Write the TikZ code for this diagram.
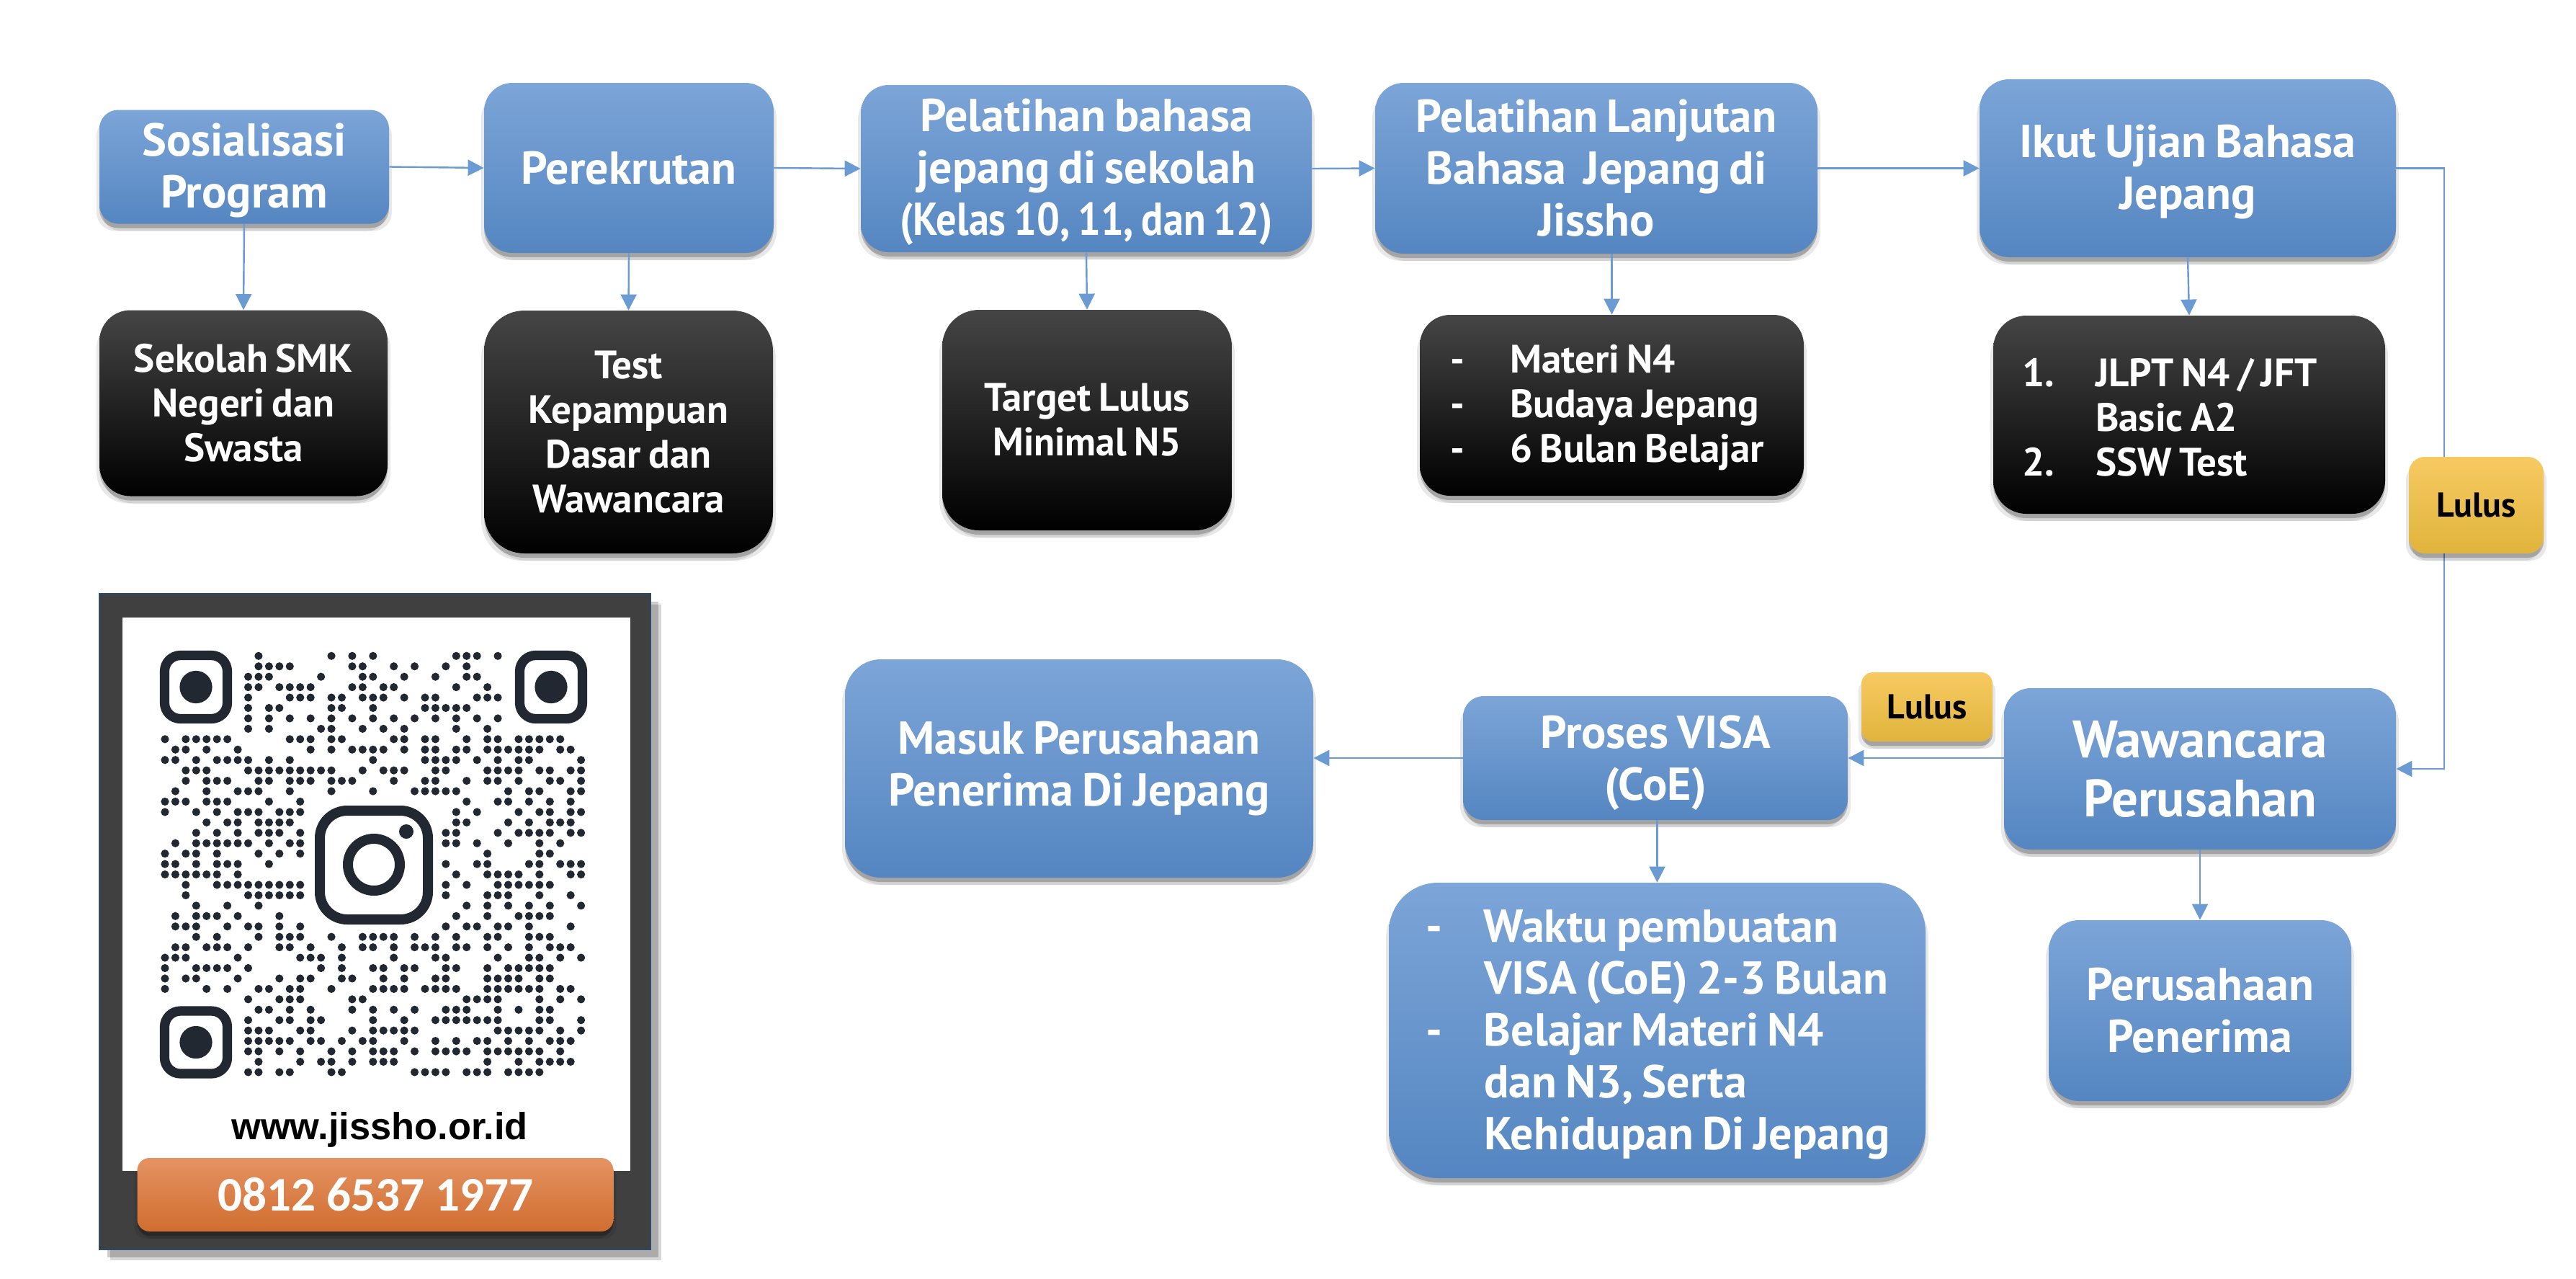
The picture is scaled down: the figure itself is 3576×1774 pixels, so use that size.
\documentclass[tikz,border=0pt]{standalone}
\usepackage{fontspec}
\usepackage{graphicx}
\setmainfont[WordSpace=0.75]{PT Sans}
\newfontfamily\phonefont{Carlito}
\newfontfamily\webfont{Liberation Sans}
\usetikzlibrary{shadows,arrows.meta}
\newcommand{\lift}[1]{\rule{0pt}{#1em}}
\newcommand{\narrowed}[2]{\scalebox{#1}[1]{#2}}
\newcommand{\itemline}[3]{\mbox{\makebox[#1][l]{#2}#3}}
\definecolor{blueT}{HTML}{7CA5D8}
\definecolor{blueM}{HTML}{6698D5}
\definecolor{blueB}{HTML}{5586C1}
\definecolor{blackT}{HTML}{454545}
\definecolor{yelT}{HTML}{F7CA62}
\definecolor{yelM}{HTML}{F6C544}
\definecolor{yelB}{HTML}{E0B43C}
\definecolor{orT}{HTML}{E59262}
\definecolor{orM}{HTML}{E27E3E}
\definecolor{orB}{HTML}{D06E30}
\definecolor{linkc}{HTML}{6A9BD3}
\definecolor{qrc}{HTML}{212832}
\definecolor{framec}{HTML}{404040}
\definecolor{frameb}{HTML}{2F4A68}
\tikzset{
  softshadow/.style={
    general shadow={shadow xshift=2pt,shadow yshift=-5pt,fill=black,opacity=.09},
    general shadow={shadow xshift=-2pt,shadow yshift=-5pt,fill=black,opacity=.09},
    general shadow={shadow xshift=0pt,shadow yshift=-3pt,fill=black,opacity=.22}},
  basebox/.style={softshadow,inner sep=0pt,align=center,text=white,
    font=\fontsize{32}{36}\selectfont\bfseries},
  bluebox/.style={basebox,top color=blueT,middle color=blueM,bottom color=blueB},
  darkbox/.style={basebox,top color=blackT,middle color=black,bottom color=black,
    font=\fontsize{27.5}{31}\selectfont\bfseries},
  yelbox/.style={basebox,top color=yelT,middle color=yelM,bottom color=yelB,text=black,
    font=\fontsize{24}{28}\selectfont\bfseries},
  link/.style={draw=linkc,line width=1.2pt,-{Triangle[length=11pt,width=11pt]}},
  qrring/.style={draw=qrc,line width=6.6pt,rounded corners=11pt},
  framebox/.style={fill=framec,draw=frameb,line width=1pt,inner sep=0pt,
    general shadow={shadow xshift=7.5pt,shadow yshift=-7.5pt,fill=black,opacity=.16},
    general shadow={shadow xshift=5.5pt,shadow yshift=-5.5pt,fill=black,opacity=.2}},
}
\begin{document}
\begin{tikzpicture}[x=0.5pt,y=-0.5pt]
\useasboundingbox (0,0) rectangle (3576,1774);
\fill[white] (0,0) rectangle (3576,1774);
% top row
\node (sos) [bluebox,minimum width=201pt,minimum height=79pt,rounded corners=13pt] at (339,231.5) {\lift{.87}Sosialisasi\\Program};
\node (per) [bluebox,minimum width=201pt,minimum height=118pt,rounded corners=19.7pt] at (873,233) {Perekrutan};
\node (pel) [bluebox,minimum width=313pt,minimum height=116pt,rounded corners=19.3pt] at (1508,234) {\lift{.87}Pelatihan bahasa\\jepang di sekolah\\\narrowed{0.88}{(Kelas 10, 11, dan 12)}};
\node (lan) [bluebox,minimum width=307pt,minimum height=118.5pt,rounded corners=19.7pt] at (2216,233.5) {\narrowed{0.98}{Pelatihan Lanjutan}\\Bahasa~~Jepang di\\Jissho};
\node (iku) [bluebox,minimum width=289pt,minimum height=123.5pt,rounded corners=20.6pt] at (3037,233.5) {\lift{.87}Ikut Ujian Bahasa\\Jepang};
% black row
\node (sek) [darkbox,minimum width=200pt,minimum height=129pt,rounded corners=21.5pt] at (338,559.5) {Sekolah SMK\\Negeri dan\\Swasta};
\node (tes) [darkbox,minimum width=200.5pt,minimum height=168.5pt,rounded corners=28pt] at (872.5,599.5) {Test\\Kepampuan\\Dasar dan\\Wawancara};
\node (tar) [darkbox,minimum width=201pt,minimum height=153pt,rounded corners=25.5pt] at (1509,583) {Target Lulus\\\narrowed{0.97}{Minimal N5}};
\node (mat) [darkbox,minimum width=266.5pt,minimum height=125.5pt,rounded corners=21pt,text width=224.5pt,align=flush left] at (2237.5,562.5) {\lift{.84}\itemline{41.5pt}{-}{Materi N4}\\\itemline{41.5pt}{-}{Budaya Jepang}\\\itemline{41.5pt}{-}{6 Bulan Belajar}};
\node (jlp) [darkbox,minimum width=272pt,minimum height=137.5pt,rounded corners=23pt,text width=232pt,align=flush left] at (3039,575.5) {\lift{.84}\itemline{51pt}{1.}{JLPT N4 / JFT}\\\itemline{51pt}{}{Basic A2}\\\itemline{51pt}{2.}{SSW Test}};
% lower row
\node (waw) [bluebox,minimum width=272pt,minimum height=112pt,rounded corners=18.7pt,font=\fontsize{36.5}{41}\selectfont\bfseries] at (3054,1067) {Wawancara\\Perusahan};
\node (pro) [bluebox,minimum width=267pt,minimum height=86pt,rounded corners=14.3pt] at (2298,1052) {\lift{.93}Proses VISA\\(CoE)};
\node (mas) [bluebox,minimum width=325pt,minimum height=151.5pt,rounded corners=25pt] at (1498,1066.5) {Masuk Perusahaan\\Penerima Di Jepang};
\node (wak) [bluebox,minimum width=372.5pt,minimum height=205pt,rounded corners=34pt,text width=321.5pt,align=flush left] at (2300.5,1430) {\lift{.87}\itemline{40.5pt}{-}{Waktu pembuatan}\\\itemline{40.5pt}{}{VISA (CoE) 2-3 Bulan}\\\itemline{40.5pt}{-}{Belajar Materi N4}\\\itemline{40.5pt}{}{dan N3, Serta}\\\itemline{40.5pt}{}{Kehidupan Di Jepang}};
\node (pen) [bluebox,minimum width=210pt,minimum height=125.5pt,rounded corners=21pt] at (3054,1402.5) {Perusahaan\\Penerima};
% connectors
\coordinate (r1) at (3393,233.5);
\coordinate (r2) at (3393,1067);
\draw[link] (sos.east) -- (per.west);
\draw[link] (per.east) -- (pel.west);
\draw[link] (pel.east) -- (lan.west);
\draw[link] (lan.east) -- (iku.west);
\draw[link] (iku.east) -- (r1) -- (r2) -- (waw.east);
\draw[link] (sos.south) -- (sek.north);
\draw[link] (per.south) -- (tes.north);
\draw[link] (pel.south) -- (tar.north);
\draw[link] (lan.south -| mat.north) -- (mat.north);
\draw[link] (iku.south) -- (jlp.north);
\draw[link] (waw.west |- pro.east) -- (pro.east);
\draw[link] (pro.west) -- (mas.east |- pro.west);
\draw[link] (pro.south -| wak.north) -- (wak.north);
\draw[link] (waw.south) -- (pen.north);
% badges
\node (lu1) [yelbox,minimum width=93.5pt,minimum height=67pt,rounded corners=11pt] at (3437.5,701) {Lulus};
\node (lu2) [yelbox,minimum width=91pt,minimum height=48pt,rounded corners=8pt] at (2675,981) {Lulus};
% QR card
\node (card) [framebox,minimum width=382.5pt,minimum height=455pt] at (520,1279) {};
\node (paper) [fill=white,inner sep=0pt,minimum width=352.5pt,minimum height=384pt] at (522.5,1241) {};
\draw[qrring] (228.5,909.5) rectangle (315.5,997.5);
\draw[qrring] (721.5,909.5) rectangle (808.5,997.5);
\draw[qrring] (228.5,1403) rectangle (315.5,1490);
\fill[qrc] (272,953.5) circle[radius=22.6];
\fill[qrc] (765,953.5) circle[radius=22.6];
\fill[qrc] (272,1446.5) circle[radius=22.6];
\draw[draw=qrc,line width=7pt,rounded corners=19pt] (444,1125) rectangle (594,1276);
\draw[draw=qrc,line width=7pt] (519,1200) circle[radius=36];
\fill[qrc] (564,1154) circle[radius=10];
\foreach \r/\cols in {
0/{9,16,18,20,28,29,30,32},
1/{9,10,11,12,18,19,22,24,27,29},
2/{8,9,10,15,19,20,23,26,29,30},
3/{8,9,11,12,13,14,18,19,21,22,28,31},
4/{8,12,13,14,16,17,19,20,21,23,25,26,30,31,32},
5/{8,10,11,16,17,20,25,26,27,28,29},
6/{8,10,12,14,16,18,20,22,24,26,28,30,32},
7/{8,10,15,16,19,21,23,28,31},
8/{0,2,3,4,5,6,12,13,14,16,17,22,23,25,26,29,31,32,34,35,36,37,38},
9/{1,2,4,7,14,16,18,19,20,21,23,25,26,28,29,31,32,33,34,35,36,38,39},
10/{0,1,3,5,6,7,8,10,12,20,25,26,27,28,30,32,34,35,40},
11/{2,3,4,8,9,10,11,12,13,14,15,16,19,21,22,23,26,27,31,32,33,34,36,37,39,40},
12/{2,4,5,6,9,10,12,13,14,16,17,18,22,25,26,29,31,32,34,37,38,40},
13/{1,4,7,8,9,12,16,20,24,25,26,27,28,33,35,36,39,40},
14/{0,1,2,4,5,6,10,13,29,32,33,35,37,39},
15/{0,3,5,7,8,9,11,12,13,28,30,34,36,37,39,40},
16/{4,6,7,9,10,11,12,28,29,33,35,37,38,39},
17/{3,5,7,9,10,11,13,27,28,32,34,35,36,37,39,40},
18/{1,3,4,5,6,7,8,10,12,13,27,28,30,33,36,38},
19/{0,2,3,5,9,11,13,31,36,37},
20/{0,1,3,5,6,7,10,27,30,31,35,36,38,39,40},
21/{0,1,2,3,4,5,7,28,31,32,33,34,36,39,40},
22/{2,5,6,7,8,9,10,11,12,13,27,29,32,33,34,35,36,37},
23/{2,8,9,10,11,12,13,27,31,32,33,36,39},
24/{3,6,9,29,31,33,35,37,40},
25/{1,3,4,5,7,11,28,31,34,35,36,37},
26/{1,2,3,6,8,9,11,13,27,29,30,32,33,35,39},
27/{3,5,9,11,12,13,16,19,20,21,22,24,26,28,31,32,35,36,37},
28/{1,2,4,5,6,8,11,12,14,17,19,20,22,24,25,26,28,29,31,33,35,37,38,39},
29/{0,1,2,7,13,14,15,17,22,26,27,32,35,36,38,40},
30/{0,3,4,5,6,8,15,17,20,21,23,24,27,28,31,33,34,35,36,37},
31/{0,2,3,7,11,13,14,17,18,21,23,26,27,31,32,33,34,36,37},
32/{0,4,6,9,10,12,13,16,20,21,22,23,25,26,27,28,31,32,33,34,35,36,38,39},
33/{8,11,12,13,18,19,29,30,31,32,36,38,40},
34/{9,10,12,14,18,20,22,24,27,28,29,32,34,36,37},
35/{8,11,12,14,15,20,23,26,27,28,29,30,31,32,36,37,40},
36/{8,9,10,13,14,18,20,21,22,23,24,32,33,34,35,36,38,40},
37/{8,9,10,11,12,14,15,17,19,20,23,26,28,30,31,33,35,37,38,39},
38/{8,9,11,13,16,18,20,21,22,24,26,27,28,29,31,32,33,34,35,36,38},
39/{9,13,15,16,18,20,21,22,31,34,36,37,38,39},
40/{8,9,11,12,16,17,24,25,26,27,29,30,31,33,34,35,36}}
{ \foreach \c in \cols { \fill[qrc] ({229+\c*14.44},{910.3+\r*14.44}) circle[radius=5.6]; } }
\node (web) [inner sep=0pt,text=black,font=\webfont\fontsize{26.2}{30}\selectfont\bfseries] at (527,1568) {www.jissho.or.id};
\node (pho) [basebox,top color=orT,middle color=orM,bottom color=orB,minimum width=330.5pt,minimum height=51pt,rounded corners=8.5pt,font=\phonefont\fontsize{33.5}{38}\selectfont\bfseries] at (521,1658) {0812 6537 1977};
\end{tikzpicture}
\end{document}
